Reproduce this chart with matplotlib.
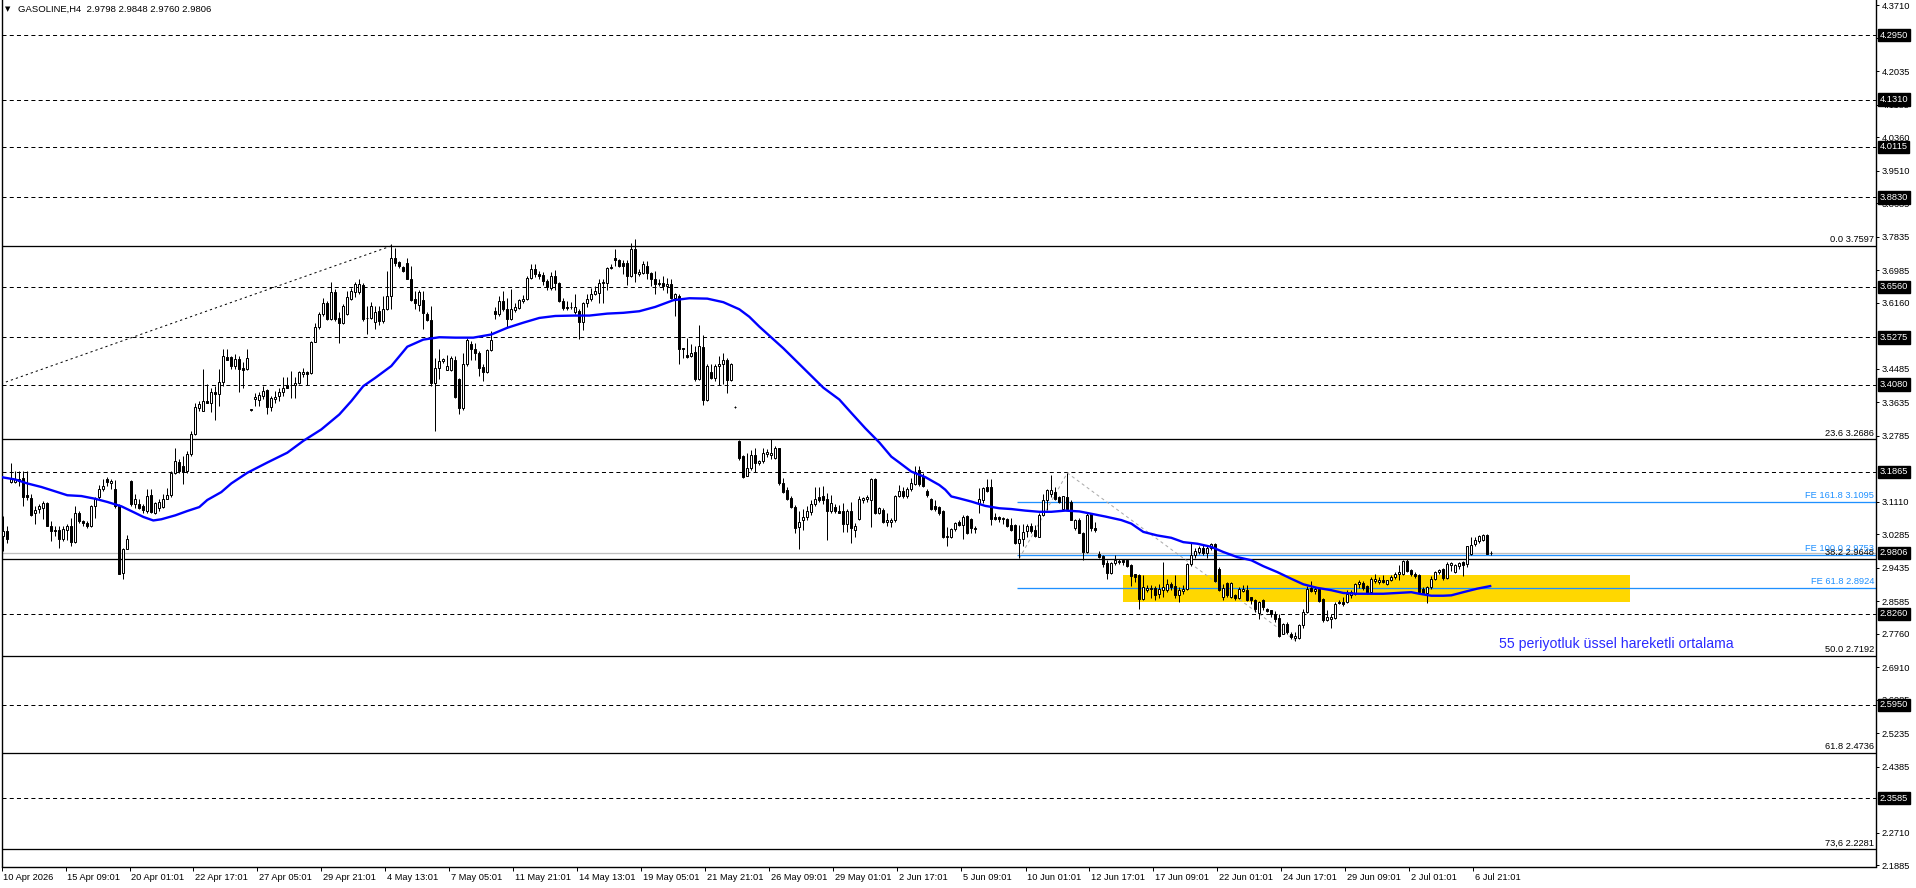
import matplotlib.pyplot as plt
import matplotlib.transforms as mtransforms
from matplotlib.patches import Rectangle
import numpy as np

plt.rcParams['font.family'] = ['Liberation Sans', 'DejaVu Sans']
plt.rcParams['lines.scale_dashes'] = False

# ---- H4 candles ----
opens = [
    3.023, 3.036, 3.160, 3.161, 3.167, 3.172, 3.128, 3.121, 3.082, 3.091,
    3.095, 3.108, 3.050, 3.040, 3.040, 3.016, 3.040, 3.049, 3.008, 3.083,
    3.061, 3.057, 3.049, 3.099, 3.123, 3.142, 3.167, 3.159, 3.142, 3.099,
    2.929, 2.991, 3.163, 3.104, 3.104, 3.100, 3.087, 3.127, 3.081, 3.095,
    3.098, 3.118, 3.127, 3.184, 3.211, 3.201, 3.188, 3.231, 3.282, 3.348,
    3.341, 3.366, 3.362, 3.389, 3.383, 3.415, 3.478, 3.477, 3.455, 3.474,
    3.449, 3.447, 3.344, 3.372, 3.369, 3.379, 3.394, 3.350, 3.371, 3.378,
    3.389, 3.406, 3.408, 3.406, 3.413, 3.434, 3.440, 3.438, 3.516, 3.553,
    3.587, 3.616, 3.574, 3.642, 3.578, 3.564, 3.587, 3.625, 3.642, 3.644,
    3.660, 3.578, 3.578, 3.566, 3.594, 3.569, 3.599, 3.633, 3.730, 3.719,
    3.707, 3.717, 3.677, 3.624, 3.611, 3.622, 3.588, 3.571, 3.412, 3.450,
    3.467, 3.446, 3.446, 3.471, 3.422, 3.349, 3.460, 3.511, 3.499, 3.487,
    3.453, 3.439, 3.495, 3.594, 3.586, 3.621, 3.600, 3.575, 3.597, 3.603,
    3.620, 3.624, 3.679, 3.702, 3.689, 3.686, 3.671, 3.654, 3.683, 3.666,
    3.620, 3.605, 3.605, 3.592, 3.594, 3.566, 3.614, 3.624, 3.639, 3.641,
    3.665, 3.665, 3.705, 3.730, 3.724, 3.717, 3.716, 3.683, 3.753, 3.689,
    3.692, 3.710, 3.692, 3.677, 3.662, 3.666, 3.658, 3.662, 3.628, 3.632,
    3.500, 3.482, 3.480, 3.490, 3.421, 3.504, 3.368, 3.439, 3.425, 3.456,
    3.461, 3.469, 3.419, 3.351, 3.264, 3.226, 3.176, 3.196, 3.230, 3.208,
    3.213, 3.232, 3.230, 3.221, 3.247, 3.159, 3.141, 3.119, 3.098, 3.046,
    3.063, 3.073, 3.084, 3.105, 3.122, 3.124, 3.117, 3.086, 3.098, 3.086,
    3.086, 3.054, 3.086, 3.039, 3.066, 3.114, 3.117, 3.115, 3.168, 3.081,
    3.090, 3.058, 3.060, 3.063, 3.124, 3.139, 3.124, 3.142, 3.156, 3.190,
    3.175, 3.139, 3.117, 3.100, 3.097, 3.086, 3.020, 3.020, 3.041, 3.058,
    3.052, 3.075, 3.066, 3.043, 3.107, 3.115, 3.147, 3.147, 3.073, 3.073,
    3.066, 3.066, 3.052, 3.052, 3.007, 3.015, 3.037, 3.049, 3.039, 3.022,
    3.077, 3.115, 3.131, 3.134, 3.122, 3.092, 3.122, 3.111, 3.043, 3.064,
    3.032, 2.984, 3.081, 3.043, 2.978, 2.973, 2.954, 2.929, 2.956, 2.958,
    2.962, 2.962, 2.949, 2.926, 2.924, 2.864, 2.887, 2.890, 2.892, 2.877,
    2.887, 2.887, 2.903, 2.896, 2.873, 2.884, 2.890, 2.952, 2.975, 2.983,
    2.994, 2.981, 2.994, 3.003, 2.941, 2.870, 2.904, 2.870, 2.873, 2.867,
    2.884, 2.886, 2.870, 2.862, 2.828, 2.860, 2.839, 2.835, 2.826, 2.816,
    2.774, 2.799, 2.774, 2.765, 2.765, 2.797, 2.831, 2.892, 2.884, 2.890,
    2.864, 2.811, 2.814, 2.816, 2.856, 2.856, 2.856, 2.873, 2.877, 2.901,
    2.904, 2.896, 2.881, 2.909, 2.907, 2.911, 2.903, 2.911, 2.919, 2.926,
    2.928, 2.960, 2.938, 2.928, 2.924, 2.890, 2.879, 2.894, 2.915, 2.932,
    2.941, 2.918, 2.949, 2.932, 2.947, 2.958, 2.953, 2.979, 3.003, 3.011,
    3.014, 3.025, 2.9798,
]
highs = [
    3.074, 3.049, 3.208, 3.188, 3.188, 3.188, 3.188, 3.129, 3.099, 3.104,
    3.112, 3.110, 3.061, 3.049, 3.049, 3.049, 3.053, 3.070, 3.099, 3.087,
    3.063, 3.061, 3.101, 3.123, 3.153, 3.167, 3.174, 3.167, 3.166, 3.104,
    2.993, 3.025, 3.166, 3.129, 3.117, 3.104, 3.144, 3.142, 3.110, 3.117,
    3.129, 3.146, 3.188, 3.248, 3.218, 3.227, 3.239, 3.290, 3.362, 3.366,
    3.447, 3.409, 3.400, 3.404, 3.447, 3.499, 3.498, 3.481, 3.485, 3.481,
    3.464, 3.498, 3.346, 3.387, 3.389, 3.403, 3.396, 3.378, 3.392, 3.400,
    3.426, 3.428, 3.443, 3.426, 3.443, 3.451, 3.443, 3.519, 3.565, 3.591,
    3.627, 3.621, 3.667, 3.650, 3.591, 3.612, 3.646, 3.652, 3.669, 3.677,
    3.666, 3.608, 3.618, 3.607, 3.607, 3.633, 3.696, 3.764, 3.755, 3.721,
    3.709, 3.730, 3.709, 3.645, 3.647, 3.645, 3.592, 3.607, 3.476, 3.497,
    3.476, 3.482, 3.480, 3.480, 3.425, 3.488, 3.527, 3.518, 3.514, 3.493,
    3.459, 3.499, 3.544, 3.605, 3.633, 3.645, 3.628, 3.651, 3.614, 3.626,
    3.634, 3.683, 3.713, 3.715, 3.696, 3.694, 3.675, 3.694, 3.698, 3.668,
    3.628, 3.620, 3.617, 3.637, 3.599, 3.617, 3.637, 3.654, 3.658, 3.675,
    3.675, 3.707, 3.713, 3.751, 3.727, 3.724, 3.724, 3.768, 3.777, 3.700,
    3.721, 3.721, 3.694, 3.696, 3.675, 3.683, 3.679, 3.675, 3.641, 3.639,
    3.501, 3.527, 3.512, 3.507, 3.560, 3.533, 3.459, 3.459, 3.459, 3.480,
    3.487, 3.476, 3.463, 3.353, 3.266, 3.230, 3.234, 3.242, 3.247, 3.217,
    3.247, 3.244, 3.269, 3.251, 3.248, 3.170, 3.147, 3.124, 3.103, 3.086,
    3.092, 3.100, 3.115, 3.147, 3.147, 3.151, 3.132, 3.128, 3.105, 3.103,
    3.107, 3.092, 3.111, 3.056, 3.124, 3.122, 3.128, 3.170, 3.170, 3.097,
    3.094, 3.081, 3.069, 3.128, 3.153, 3.147, 3.147, 3.170, 3.200, 3.200,
    3.183, 3.142, 3.119, 3.115, 3.100, 3.090, 3.047, 3.043, 3.060, 3.064,
    3.077, 3.077, 3.069, 3.049, 3.145, 3.147, 3.168, 3.168, 3.081, 3.075,
    3.073, 3.069, 3.069, 3.054, 3.052, 3.054, 3.054, 3.056, 3.052, 3.081,
    3.131, 3.142, 3.179, 3.149, 3.124, 3.125, 3.183, 3.115, 3.066, 3.069,
    3.035, 3.081, 3.083, 3.058, 2.986, 2.975, 2.963, 2.958, 2.975, 2.966,
    2.966, 2.966, 2.953, 2.928, 2.926, 2.924, 2.898, 2.898, 2.896, 2.901,
    2.958, 2.915, 2.907, 2.924, 2.894, 2.898, 2.955, 3.009, 2.992, 2.997,
    3.004, 3.000, 3.006, 3.006, 2.945, 2.903, 2.907, 2.907, 2.877, 2.894,
    2.898, 2.898, 2.870, 2.864, 2.858, 2.864, 2.841, 2.836, 2.833, 2.826,
    2.803, 2.805, 2.780, 2.780, 2.801, 2.839, 2.896, 2.909, 2.894, 2.892,
    2.867, 2.835, 2.826, 2.856, 2.862, 2.870, 2.886, 2.886, 2.904, 2.911,
    2.909, 2.898, 2.919, 2.928, 2.919, 2.924, 2.913, 2.924, 2.932, 2.949,
    2.962, 2.964, 2.941, 2.932, 2.928, 2.894, 2.896, 2.921, 2.936, 2.941,
    2.943, 2.958, 2.958, 2.952, 2.958, 2.960, 2.999, 3.021, 3.021, 3.025,
    3.028, 3.028, 2.9848,
]
lows = [
    2.985, 3.006, 3.159, 3.159, 3.150, 3.099, 3.116, 3.074, 3.053, 3.082,
    3.066, 3.049, 3.010, 3.023, 2.993, 3.010, 3.014, 2.998, 3.006, 3.057,
    3.049, 3.045, 3.047, 3.070, 3.118, 3.138, 3.150, 3.142, 3.095, 2.926,
    2.915, 2.990, 3.100, 3.095, 3.091, 3.083, 3.083, 3.083, 3.079, 3.087,
    3.095, 3.117, 3.123, 3.180, 3.184, 3.155, 3.184, 3.227, 3.279, 3.341,
    3.341, 3.362, 3.339, 3.318, 3.354, 3.405, 3.471, 3.447, 3.447, 3.389,
    3.400, 3.445, 3.342, 3.354, 3.354, 3.372, 3.333, 3.341, 3.362, 3.366,
    3.379, 3.398, 3.375, 3.375, 3.409, 3.426, 3.406, 3.434, 3.515, 3.549,
    3.583, 3.572, 3.572, 3.570, 3.513, 3.561, 3.584, 3.623, 3.629, 3.638,
    3.570, 3.536, 3.574, 3.548, 3.560, 3.565, 3.597, 3.599, 3.710, 3.705,
    3.694, 3.675, 3.620, 3.599, 3.594, 3.548, 3.569, 3.404, 3.289, 3.421,
    3.463, 3.444, 3.442, 3.374, 3.334, 3.344, 3.455, 3.471, 3.471, 3.429,
    3.416, 3.436, 3.493, 3.575, 3.582, 3.594, 3.552, 3.573, 3.592, 3.600,
    3.616, 3.622, 3.677, 3.682, 3.675, 3.660, 3.649, 3.649, 3.649, 3.617,
    3.597, 3.597, 3.599, 3.586, 3.524, 3.546, 3.605, 3.620, 3.634, 3.616,
    3.614, 3.649, 3.702, 3.709, 3.707, 3.688, 3.660, 3.682, 3.668, 3.683,
    3.689, 3.677, 3.658, 3.639, 3.658, 3.649, 3.641, 3.624, 3.583, 3.459,
    3.476, 3.476, 3.478, 3.416, 3.419, 3.357, 3.366, 3.421, 3.416, 3.408,
    3.410, 3.387, 3.416, 3.349, 3.217, 3.171, 3.175, 3.192, 3.185, 3.204,
    3.210, 3.225, 3.219, 3.219, 3.153, 3.132, 3.115, 3.094, 3.031, 2.990,
    3.039, 3.063, 3.077, 3.100, 3.111, 3.105, 3.014, 3.083, 3.083, 3.081,
    3.035, 3.035, 3.005, 3.022, 3.064, 3.107, 3.111, 3.047, 3.080, 3.080,
    3.056, 3.049, 3.046, 3.060, 3.122, 3.120, 3.120, 3.139, 3.153, 3.151,
    3.149, 3.122, 3.090, 3.088, 3.077, 3.018, 2.997, 3.018, 3.037, 3.049,
    3.015, 3.029, 3.032, 3.032, 3.081, 3.107, 3.136, 3.052, 3.063, 3.060,
    3.054, 3.047, 3.037, 3.003, 2.967, 2.997, 3.022, 3.030, 3.022, 3.020,
    3.075, 3.090, 3.122, 3.115, 3.107, 3.090, 3.090, 3.063, 3.039, 3.030,
    2.963, 2.980, 3.037, 3.035, 2.967, 2.946, 2.914, 2.927, 2.950, 2.953,
    2.949, 2.945, 2.896, 2.907, 2.839, 2.860, 2.881, 2.867, 2.862, 2.867,
    2.870, 2.881, 2.886, 2.867, 2.856, 2.877, 2.887, 2.947, 2.969, 2.979,
    2.975, 2.969, 2.989, 2.907, 2.884, 2.862, 2.870, 2.867, 2.862, 2.864,
    2.881, 2.859, 2.852, 2.831, 2.814, 2.835, 2.831, 2.819, 2.805, 2.767,
    2.774, 2.774, 2.763, 2.758, 2.763, 2.791, 2.828, 2.881, 2.877, 2.856,
    2.805, 2.809, 2.791, 2.814, 2.850, 2.847, 2.853, 2.867, 2.875, 2.892,
    2.887, 2.877, 2.879, 2.904, 2.903, 2.904, 2.898, 2.909, 2.915, 2.913,
    2.924, 2.932, 2.921, 2.918, 2.879, 2.877, 2.853, 2.890, 2.911, 2.928,
    2.911, 2.915, 2.935, 2.930, 2.941, 2.921, 2.945, 2.975, 2.997, 3.006,
    3.011, 2.977, 2.9760,
]
closes = [
    3.036, 3.016, 3.167, 3.169, 3.163, 3.123, 3.123, 3.078, 3.089, 3.099,
    3.108, 3.049, 3.036, 3.036, 3.016, 3.042, 3.049, 3.008, 3.083, 3.061,
    3.057, 3.049, 3.099, 3.121, 3.142, 3.150, 3.160, 3.163, 3.099, 2.926,
    2.991, 3.015, 3.104, 3.117, 3.095, 3.090, 3.125, 3.085, 3.108, 3.110,
    3.118, 3.127, 3.184, 3.214, 3.188, 3.186, 3.231, 3.282, 3.350, 3.358,
    3.366, 3.362, 3.388, 3.383, 3.415, 3.481, 3.471, 3.455, 3.474, 3.447,
    3.445, 3.476, 3.344, 3.377, 3.381, 3.392, 3.350, 3.375, 3.377, 3.389,
    3.400, 3.400, 3.406, 3.413, 3.440, 3.440, 3.434, 3.516, 3.553, 3.587,
    3.616, 3.574, 3.642, 3.574, 3.564, 3.608, 3.629, 3.646, 3.663, 3.663,
    3.574, 3.576, 3.608, 3.592, 3.569, 3.599, 3.633, 3.730, 3.717, 3.709,
    3.696, 3.677, 3.622, 3.614, 3.643, 3.590, 3.571, 3.412, 3.450, 3.467,
    3.473, 3.455, 3.476, 3.377, 3.349, 3.460, 3.520, 3.497, 3.487, 3.450,
    3.439, 3.495, 3.522, 3.586, 3.619, 3.599, 3.575, 3.599, 3.605, 3.622,
    3.624, 3.679, 3.702, 3.688, 3.683, 3.671, 3.656, 3.683, 3.666, 3.620,
    3.603, 3.603, 3.604, 3.605, 3.566, 3.614, 3.624, 3.639, 3.645, 3.666,
    3.668, 3.705, 3.707, 3.724, 3.710, 3.710, 3.683, 3.753, 3.690, 3.694,
    3.713, 3.692, 3.677, 3.662, 3.666, 3.658, 3.664, 3.628, 3.637, 3.499,
    3.497, 3.478, 3.488, 3.421, 3.505, 3.368, 3.455, 3.425, 3.456, 3.461,
    3.469, 3.419, 3.460, 3.351, 3.222, 3.173, 3.196, 3.230, 3.210, 3.213,
    3.234, 3.236, 3.234, 3.247, 3.159, 3.136, 3.117, 3.097, 3.043, 3.060,
    3.073, 3.086, 3.105, 3.117, 3.115, 3.115, 3.086, 3.107, 3.086, 3.083,
    3.054, 3.086, 3.043, 3.049, 3.117, 3.119, 3.122, 3.168, 3.081, 3.094,
    3.058, 3.063, 3.064, 3.125, 3.139, 3.125, 3.142, 3.158, 3.185, 3.155,
    3.151, 3.128, 3.092, 3.092, 3.081, 3.020, 3.024, 3.041, 3.056, 3.052,
    3.071, 3.031, 3.043, 3.041, 3.117, 3.145, 3.139, 3.066, 3.066, 3.066,
    3.069, 3.049, 3.039, 3.007, 3.015, 3.035, 3.049, 3.037, 3.024, 3.077,
    3.115, 3.141, 3.141, 3.117, 3.111, 3.124, 3.092, 3.064, 3.064, 3.032,
    2.984, 3.077, 3.043, 3.039, 2.971, 2.953, 2.929, 2.956, 2.963, 2.960,
    2.958, 2.947, 2.921, 2.919, 2.864, 2.894, 2.892, 2.892, 2.875, 2.890,
    2.894, 2.901, 2.894, 2.873, 2.887, 2.890, 2.952, 2.975, 2.986, 2.994,
    2.981, 2.994, 3.003, 2.909, 2.887, 2.892, 2.873, 2.904, 2.867, 2.890,
    2.890, 2.862, 2.860, 2.839, 2.856, 2.843, 2.833, 2.826, 2.814, 2.771,
    2.799, 2.780, 2.767, 2.769, 2.797, 2.831, 2.890, 2.884, 2.890, 2.859,
    2.811, 2.818, 2.819, 2.852, 2.853, 2.852, 2.877, 2.881, 2.903, 2.907,
    2.892, 2.879, 2.915, 2.915, 2.911, 2.907, 2.911, 2.919, 2.928, 2.932,
    2.960, 2.935, 2.928, 2.921, 2.881, 2.879, 2.894, 2.915, 2.932, 2.938,
    2.918, 2.953, 2.955, 2.949, 2.955, 2.949, 2.997, 3.000, 3.014, 3.023,
    3.025, 2.979, 2.9806,
]

# 55-period EMA (bar index, value)
ema_bars = [-0.5, 3, 6, 9.5, 12, 16, 19.5, 23, 26, 29.5, 33, 35, 37.5, 39.5, 43, 46, 49, 51,
            54.5, 57, 61, 66, 71, 75, 79.5, 84, 87, 90, 93, 97, 101, 105, 109, 113, 117.5,
            122, 126, 130, 134, 138, 142.5, 146.5, 151, 155, 159, 163, 167.5, 171.5, 176,
            180, 184, 186.5, 189, 195, 201, 205, 209, 212, 215.5, 219, 222, 224, 227, 230.5,
            234, 235.5, 237, 239, 242, 245.5, 249, 252, 255.5, 259, 262, 265.5, 269, 272,
            275.5, 279.5, 282, 285, 288.5, 292, 295, 298.5, 302, 305, 308.5, 312, 315, 318.5,
            322, 325, 328.5, 332, 335, 338.5, 342, 345, 348.5, 352, 354, 357, 360, 362, 365,
            368.5, 372]
ema_values = [3.173, 3.167, 3.157, 3.148, 3.140, 3.127, 3.125, 3.118, 3.110, 3.099, 3.082,
              3.072, 3.063, 3.066, 3.076, 3.087, 3.097, 3.115, 3.135, 3.157, 3.184, 3.210,
              3.235, 3.265, 3.294, 3.332, 3.366, 3.404, 3.425, 3.455, 3.504, 3.522, 3.528,
              3.527, 3.527, 3.535, 3.552, 3.565, 3.577, 3.582, 3.583, 3.583, 3.588, 3.590,
              3.594, 3.605, 3.622, 3.627, 3.626, 3.617, 3.599, 3.580, 3.555, 3.500, 3.440,
              3.400, 3.370, 3.336, 3.297, 3.261, 3.225, 3.210, 3.187, 3.173, 3.153, 3.141,
              3.124, 3.119, 3.111, 3.100, 3.094, 3.092, 3.088, 3.085, 3.085, 3.088, 3.086,
              3.080, 3.073, 3.064, 3.055, 3.034, 3.025, 3.019, 3.008, 3.004, 2.996, 2.983,
              2.970, 2.962, 2.947, 2.932, 2.915, 2.901, 2.892, 2.886, 2.879, 2.877, 2.877,
              2.877, 2.879, 2.881, 2.877, 2.872, 2.872, 2.873, 2.881, 2.890, 2.897]

date_labels = ['10 Apr 2026', '15 Apr 09:01', '20 Apr 01:01', '22 Apr 17:01', '27 Apr 05:01',
               '29 Apr 21:01', '4 May 13:01', '7 May 05:01', '11 May 21:01', '14 May 13:01',
               '19 May 05:01', '21 May 21:01', '26 May 09:01', '29 May 01:01', '2 Jun 17:01',
               '5 Jun 09:01', '10 Jun 01:01', '12 Jun 17:01', '17 Jun 09:01', '22 Jun 01:01',
               '24 Jun 17:01', '29 Jun 09:01', '2 Jul 01:01', '6 Jul 21:01']
bars_per_label = 16

# scale values; the ones hidden behind the level boxes are left out
price_ticks = [4.3710, 4.2865, 4.2035, 4.1185, 4.0360, 3.9510, 3.8685, 3.7835, 3.6985,
               3.6160, 3.4485, 3.3635, 3.2785, 3.1110, 3.0285, 2.9435,
               2.8585, 2.7760, 2.6910, 2.6085, 2.5235, 2.4385, 2.2710, 2.1885]

hline_levels = [4.2950, 4.1310, 4.0115, 3.8830, 3.6560, 3.5275, 3.4080, 3.1865,
                2.8260, 2.5950, 2.3585]
fib_levels = [3.7597, 3.2686, 2.9648, 2.7192, 2.4736, 2.2281]
fib_labels = ['0.0 3.7597', '23.6 3.2686', '38.2 2.9648', '50.0 2.7192',
              '61.8 2.4736', '73,6 2.2281']
fe_levels = [3.1095, 2.9753, 2.8924]
fe_labels = ['FE 161.8 3.1095', 'FE 100.0 2.9753', 'FE 61.8 2.8924']
fe_points_bar = [254, 266, 323]
fe_points_price = [2.9666, 3.1836, 2.7583]
fib_line_bar = [-0.6, 97]
fib_line_price = [3.410, 3.7597]
bid_price = 2.9806
zone_bars = (279.9, 406.6)
zone_prices = (2.856, 2.9245)

# ---- figure ----
W, H = 1916, 888
fig = plt.figure(figsize=(W / 100, H / 100), dpi=100)
ax_l, ax_r, ax_b = 1.5, 1876, 866.5
ax = fig.add_axes([ax_l / W, (H - ax_b) / H, (ax_r - ax_l) / W, ax_b / H])
x_lo = -0.45
x_hi = (ax_r - ax_l) / 4 + x_lo
ax.set_xlim(x_lo, x_hi)
ax.set_ylim(2.1848, 4.3839)

px = 0.72  # one pixel in points
BLUE_FE = '#1E90FF'

# horizontal levels
for lv in hline_levels:
    ax.axhline(lv, color='black', lw=px, dashes=(2.9, 2.3), zorder=2)
for lv in fib_levels:
    ax.axhline(lv, color='black', lw=px * 1.3, zorder=2)
ax.axhline(bid_price, color='#C0C0C0', lw=px * 1.3, zorder=2)
for lv in fe_levels:
    ax.hlines(lv, fe_points_bar[0] - 0.5, x_hi, color=BLUE_FE, lw=px * 1.3, zorder=2)

# support zone
ax.add_patch(Rectangle((zone_bars[0], zone_prices[0]), zone_bars[1] - zone_bars[0],
                       zone_prices[1] - zone_prices[0], facecolor='#FFD700',
                       edgecolor='none', zorder=1))

# tool trend lines
ax.plot(fib_line_bar, fib_line_price, color='black', lw=px, dashes=(1.6, 2.2), zorder=2)
ax.plot(fe_points_bar, fe_points_price, color='#A9A9A9', lw=px, dashes=(2.2, 2.2), zorder=2)

# candles
o = np.array(opens)
h = np.array(highs)
l = np.array(lows)
c = np.array(closes)
x = np.arange(len(c))
up = c >= o
ax.vlines(x, l, h, color='black', lw=px, zorder=3)
body_lo = np.minimum(o, c)
body_h = np.maximum(np.abs(c - o), 0.0012)
ax.bar(x[up], body_h[up], bottom=body_lo[up], width=0.5, facecolor='white',
       edgecolor='black', linewidth=px, zorder=4)
ax.bar(x[~up], body_h[~up], bottom=body_lo[~up], width=0.5, facecolor='black',
       edgecolor='black', linewidth=px, zorder=4)

# EMA
ax.plot(ema_bars, ema_values, color='#0000FF', lw=1.7, zorder=5, solid_capstyle='butt')

# level labels
for lv, txt in zip(fib_levels, fib_labels):
    ax.annotate(txt, xy=(1, lv), xycoords=('axes fraction', 'data'), xytext=(-1.5, 1.2),
                textcoords='offset points', ha='right', va='bottom', fontsize=6.7,
                color='black', zorder=6)
for lv, txt in zip(fe_levels, fe_labels):
    ax.annotate(txt, xy=(1, lv), xycoords=('axes fraction', 'data'), xytext=(-1.5, 1.2),
                textcoords='offset points', ha='right', va='bottom', fontsize=6.7,
                color=BLUE_FE, zorder=6)

ax.text(373.9, 2.7485, '55 periyotluk üssel hareketli ortalama', color='#2A2AFF',
        fontsize=10.2, ha='left', va='center', zorder=6)

# spines
for side in ['left', 'bottom', 'right']:
    ax.spines[side].set_linewidth(1.0)
    ax.spines[side].set_color('black')
ax.spines['top'].set_visible(False)

# price axis on the right
ax.yaxis.tick_right()
ax.set_yticks(price_ticks, [f'{p:.4f}' for p in price_ticks])
ax.tick_params(axis='y', direction='out', length=2.5, width=px, pad=1.5,
               labelsize=6.7, colors='black')

for lv in hline_levels + [bid_price]:
    ax.annotate(f'{lv:.4f}', xy=(1, lv), xycoords=('axes fraction', 'data'),
                xytext=(2.6, 0), textcoords='offset points', ha='left', va='center',
                fontsize=6.7, color='white', zorder=10, annotation_clip=False,
                bbox=dict(boxstyle='square,pad=0.18', facecolor='black', edgecolor='black'))

# time axis
tick_pos = [k * bars_per_label - 0.45 for k in range(len(date_labels))]
ax.set_xticks(tick_pos, date_labels)
ax.tick_params(axis='x', direction='out', length=3, width=px, pad=1.5,
               labelsize=6.7, colors='black')
shift = mtransforms.ScaledTranslation(1.5 / 100, 0, fig.dpi_scale_trans)
for lab in ax.get_xticklabels():
    lab.set_horizontalalignment('left')
    lab.set_transform(lab.get_transform() + shift)

# header
fig.text(5 / W, 1 - 9.5 / H, '▼', fontsize=5, family='DejaVu Sans', va='center', ha='left')
fig.text(18 / W, 1 - 9.5 / H, 'GASOLINE,H4  2.9798 2.9848 2.9760 2.9806', fontsize=6.8,
         va='center', ha='left')

fig.savefig('out.png', dpi=100, facecolor='white')
